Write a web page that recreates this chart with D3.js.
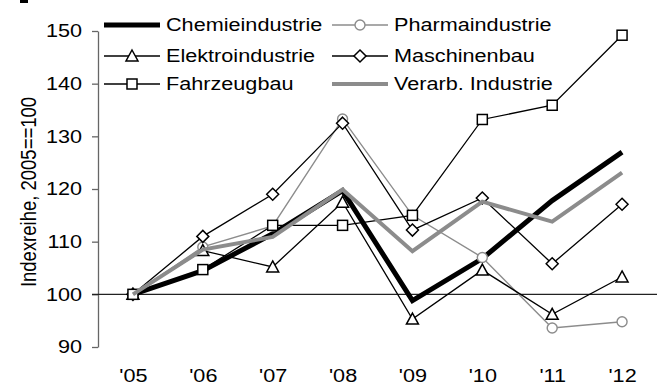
<!DOCTYPE html>
<html>
<head>
<meta charset="utf-8">
<script src="https://cdn.jsdelivr.net/npm/d3@7"></script>
<style>
  html, body { margin: 0; padding: 0; background: #fff; }
  svg { display: block; font-family: "Liberation Sans", Arial, sans-serif; }
</style>
</head>
<body>
<svg id="chart" width="657" height="387"></svg>
<script>
// Jahre (Kategorien der x-Achse)
const years = ["'05", "'06", "'07", "'08", "'09", "'10", "'11", "'12"];

// Indexreihen, 2005 = 100
const chemie      = [100, 104.5, 111.5, 119.7,  98.8, 106.8, 117.8, 127.0];
const pharma      = [100, 109.0, 113.0, 133.3, 115.0, 107.0,  93.6,  94.8];
const elektro     = [100, 108.3, 105.2, 117.5,  95.3, 104.6,  96.2, 103.3];
const maschinen   = [100, 111.0, 119.0, 132.5, 112.2, 118.3, 105.8, 117.1];
const fahrzeug    = [100, 104.7, 113.1, 113.1, 115.0, 133.2, 135.9, 149.2];
const verarbeitet = [100, 108.5, 110.9, 119.9, 108.2, 117.6, 113.8, 123.1];

const yTicks = [90, 100, 110, 120, 130, 140, 150];

const series = [
  { name: "Chemieindustrie",    values: chemie,      color: "#000",    width: 5,   marker: null },
  { name: "Pharmaindustrie",    values: pharma,      color: "#8c8c8c", width: 1.4, marker: "circle" },
  { name: "Elektroindustrie",   values: elektro,     color: "#000",    width: 1.3, marker: "triangle" },
  { name: "Maschinenbau",       values: maschinen,   color: "#000",    width: 1.3, marker: "diamond" },
  { name: "Fahrzeugbau",        values: fahrzeug,    color: "#000",    width: 1.3, marker: "square" },
  { name: "Verarb. Industrie",  values: verarbeitet, color: "#8c8c8c", width: 4,   marker: null }
];

const FONT = 18.5;   // text size
const SX = 1.17;     // horizontal stretch of the lettering

const svg = d3.select("#chart");
const plotLeft = 98, plotRight = 657, plotTop = 31, plotBottom = 347;

const x = d3.scalePoint().domain(years).range([plotLeft, plotRight]).padding(0.5);
const y = d3.scaleLinear().domain([90, 150]).range([plotBottom, plotTop]);

// small fragment in the top-left corner
svg.append("rect").attr("x", 20).attr("y", 0).attr("width", 8).attr("height", 3).attr("fill", "#000");

// y axis
const yAxis = svg.append("g")
  .attr("transform", `translate(${plotLeft},0)`)
  .call(d3.axisLeft(y).tickValues(yTicks).tickSize(6).tickSizeOuter(0).tickPadding(10));
yAxis.select(".domain").attr("stroke", "#666").attr("stroke-width", 1.3);
yAxis.selectAll(".tick line").attr("stroke", "#666").attr("stroke-width", 1.3);
yAxis.selectAll("text")
  .attr("font-size", FONT).attr("fill", "#000")
  .attr("font-family", "Liberation Sans, Arial, sans-serif")
  .attr("x", -16 / SX)
  .attr("transform", `scale(${SX},1)`);

// x labels
const xAxis = svg.append("g")
  .attr("transform", `translate(0,${plotBottom})`)
  .call(d3.axisBottom(x).tickSize(0).tickPadding(22));
xAxis.select(".domain").remove();
xAxis.selectAll("text")
  .attr("font-size", FONT).attr("fill", "#000")
  .attr("font-family", "Liberation Sans, Arial, sans-serif")
  .attr("transform", `scale(${SX},1)`);

// reference line at 100
svg.append("line")
  .attr("x1", plotLeft - 6).attr("x2", plotRight)
  .attr("y1", y(100)).attr("y2", y(100))
  .attr("stroke", "#222").attr("stroke-width", 1.2);

// y axis title
svg.append("text")
  .attr("transform", `translate(36,192) scale(${SX},1) rotate(-90)`)
  .attr("text-anchor", "middle")
  .attr("font-size", FONT)
  .text("Indexreihe, 2005==100");

// marker drawing
function drawMarker(g, type, cx, cy, s) {
  if (type === "circle") {
    g.append("circle").attr("cx", cx).attr("cy", cy).attr("r", 5)
      .attr("fill", "#fff").attr("stroke", s.color).attr("stroke-width", 1.4);
  } else if (type === "square") {
    g.append("rect").attr("x", cx - 5).attr("y", cy - 5).attr("width", 10).attr("height", 10)
      .attr("fill", "#fff").attr("stroke", "#000").attr("stroke-width", 1.5);
  } else if (type === "triangle") {
    g.append("path").attr("d", `M${cx},${cy - 6}L${cx + 6},${cy + 5}L${cx - 6},${cy + 5}Z`)
      .attr("fill", "#fff").attr("stroke", "#000").attr("stroke-width", 1.5);
  } else if (type === "diamond") {
    g.append("path").attr("d", `M${cx},${cy - 6}L${cx + 6},${cy}L${cx},${cy + 6}L${cx - 6},${cy}Z`)
      .attr("fill", "#fff").attr("stroke", "#000").attr("stroke-width", 1.5);
  }
}

const line = d3.line().x((d, i) => x(years[i])).y(d => y(d));

series.forEach(s => {
  const g = svg.append("g");
  g.append("path").attr("d", line(s.values))
    .attr("fill", "none").attr("stroke", s.color).attr("stroke-width", s.width)
    .attr("stroke-linejoin", "miter");
  if (s.marker) s.values.forEach((v, i) => drawMarker(g, s.marker, x(years[i]), y(v), s));
});

// legend
const legendCols = [104, 332];
const legendRows = [25, 56, 84];
const legend = svg.append("g");
series.forEach((s, i) => {
  const lx = legendCols[i % 2], ly = legendRows[Math.floor(i / 2)];
  const g = legend.append("g");
  g.append("line").attr("x1", lx).attr("x2", lx + 56).attr("y1", ly).attr("y2", ly)
    .attr("stroke", s.color).attr("stroke-width", s.width);
  if (s.marker) drawMarker(g, s.marker, lx + 28, ly, s);
  g.append("text")
    .attr("transform", `translate(${lx + 62},${ly}) scale(${SX},1)`)
    .attr("dy", "0.35em")
    .attr("font-size", FONT).text(s.name);
});
</script>
</body>
</html>
